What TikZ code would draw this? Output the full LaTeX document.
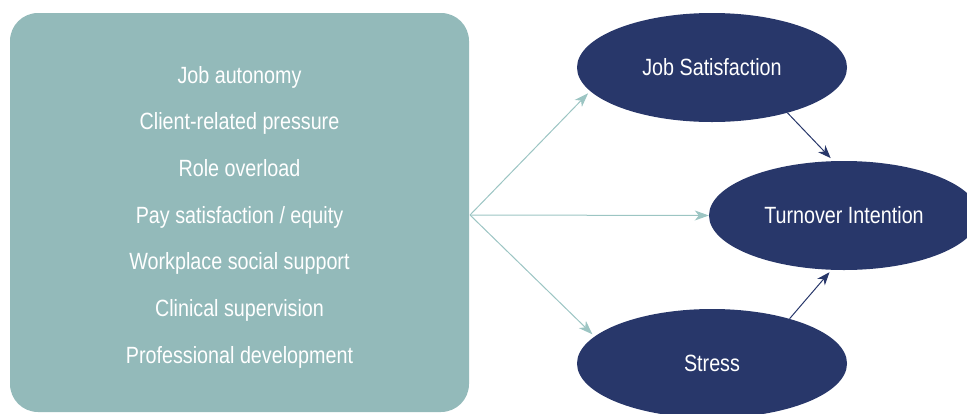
\documentclass[tikz,border=0pt]{standalone}
\usepackage{fontspec}
\setmainfont[FakeStretch=0.84]{Liberation Sans}
\usetikzlibrary{shapes.geometric,arrows.meta}
\definecolor{boxteal}{HTML}{93BABA}
\definecolor{arrteal}{HTML}{9CC5C3}
\definecolor{navy}{HTML}{28376A}
\tikzset{
  factor/.style={anchor=base,text=white,font=\fontsize{23.5}{26}\selectfont,inner sep=0pt},
  oval/.style={ellipse,fill=navy,draw=none,inner sep=0pt,minimum width=270pt,minimum height=109pt,text=white,font=\fontsize{23.5}{26}\selectfont},
  tealarrow/.style={draw=arrteal,line width=1pt,-{Stealth[length=14pt,width=10pt,inset=4pt]}},
  navyarrow/.style={draw=navy,line width=1pt,-{Stealth[length=13pt,width=10pt,inset=4pt]}}
}
\begin{document}
\begin{tikzpicture}[x=1pt,y=-1pt]
\useasboundingbox (0,0) rectangle (967,413);
\node[fill=boxteal,rounded corners=28pt,minimum width=459pt,minimum height=399pt,inner sep=0pt,draw=none] (box) at (239.5,212.5) {};
\node[factor] (f1) at (239.5,83) {Job autonomy};
\node[factor] (f2) at (239.5,129.7) {Client-related pressure};
\node[factor] (f3) at (239.5,176.3) {Role overload};
\node[factor] (f4) at (239.5,223) {Pay satisfaction / equity};
\node[factor] (f5) at (239.5,269.7) {Workplace social support};
\node[factor] (f6) at (239.5,316.3) {Clinical supervision};
\node[factor] (f7) at (239.5,363) {Professional development};
\node[oval] (js) at (712,67.5) {Job Satisfaction};
\node[oval] (ti) at (844,215.5) {Turnover Intention};
\node[oval] (st) at (712,363.5) {Stress};
\coordinate (hub) at (470,215);
\draw[tealarrow,shorten >=3pt] (hub) -- (js.191);
\draw[tealarrow] (hub) -- (ti.west);
\draw[tealarrow,shorten >=3pt] (hub) -- (st.167);
\draw[navyarrow,shorten >=4pt] (js.-31) -- (ti.101.6);
\draw[navyarrow,shorten >=3pt] (st.30.9) -- (ti.257.3);
\end{tikzpicture}
\end{document}
